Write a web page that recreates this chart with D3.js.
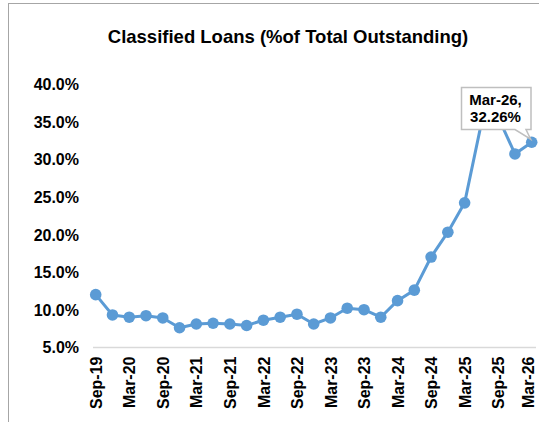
<!DOCTYPE html>
<html>
<head>
<meta charset="utf-8">
<script src="https://cdn.jsdelivr.net/npm/d3@7"></script>
<style>
  body { margin: 0; background: #fff; }
  text { font-family: "Liberation Sans", Arial, sans-serif; font-weight: bold; fill: #000; }
</style>
</head>
<body>
<svg id="chart" width="539" height="422"></svg>
<script>
let quarters = [
  "Sep-19", "Dec-19", "Mar-20", "Jun-20", "Sep-20", "Dec-20", "Mar-21", "Jun-21", "Sep-21",
  "Dec-21", "Mar-22", "Jun-22", "Sep-22", "Dec-22", "Mar-23", "Jun-23", "Sep-23", "Dec-23",
  "Mar-24", "Jun-24", "Sep-24", "Dec-24", "Mar-25", "Jun-25", "Sep-25", "Dec-25", "Mar-26"
]
let classified = [
  12.0, 9.3, 9.0, 9.2, 8.9, 7.6, 8.1, 8.2, 8.1,
  7.9, 8.6, 9.0, 9.4, 8.1, 8.9, 10.2, 10.0, 9.0,
  11.2, 12.6, 17.0, 20.3, 24.2, 34.8, 35.6, 30.7, 32.26
]
let yTicks = [5, 10, 15, 20, 25, 30, 35, 40]
let xTickLabels = quarters.filter((d, i) => i % 2 === 0)
let title = "Classified Loans (%of Total Outstanding)"

let svg = d3.select("#chart")
let blue = "#5B9BD5"

// outer chart border (only left/top edges are in frame)
svg.append("rect")
  .attr("x", 8.5)
  .attr("y", 3.5)
  .attr("width", 600)
  .attr("height", 500)
  .style("fill", "none")
  .style("stroke", "#a6a6a6")

svg.append("text")
  .attr("x", 288)
  .attr("y", 43)
  .attr("text-anchor", "middle")
  .style("font-size", "18.5px")
  .text(title)

let x = d3.scalePoint().domain(quarters).range([95.7, 531.7])
let y = d3.scaleLinear().domain([5, 40]).range([347.3, 84])

// y axis labels
let yAxis = d3.axisLeft(y)
  .tickValues(yTicks)
  .tickSize(0)
  .tickPadding(0)
  .tickFormat(d => d.toFixed(1) + "%")
svg.append("g")
  .attr("transform", "translate(79,0)")
  .call(yAxis)
  .call(g => g.select(".domain").remove())
  .selectAll("text")
  .attr("dy", "0.35em")
  .style("font-size", "16px")
  .style("font-family", "'Liberation Sans', Arial, sans-serif")
  .style("font-weight", "bold")

// x axis
let xAxis = d3.axisBottom(x)
  .tickValues(xTickLabels)
  .tickSize(0)
  .tickPadding(0)
svg.append("g")
  .attr("transform", "translate(0,347.5)")
  .call(xAxis)
  .call(g => g.select(".domain").remove())
  .selectAll("text")
  .attr("transform", "rotate(-90)")
  .attr("x", -9)
  .attr("y", 0)
  .attr("dy", (d, i) => i === xTickLabels.length - 1 ? "0.1em" : "0.35em") // keep last label in frame
  .attr("text-anchor", "end")
  .style("font-size", "16px")
  .style("font-family", "'Liberation Sans', Arial, sans-serif")
  .style("font-weight", "bold")

svg.append("line")
  .attr("x1", 93)
  .attr("x2", 536)
  .attr("y1", 347.5)
  .attr("y2", 347.5)
  .style("stroke", "#d9d9d9")
  .style("stroke-width", 1.5)

let line = d3.line()
  .x((d, i) => x(quarters[i]))
  .y(d => y(d))

svg.append("path")
  .datum(classified)
  .attr("d", line)
  .style("fill", "none")
  .style("stroke", blue)
  .style("stroke-width", 3)
  .style("stroke-linejoin", "round")

svg.selectAll("circle.pt")
  .data(classified)
  .enter()
  .append("circle")
  .attr("class", "pt")
  .attr("cx", (d, i) => x(quarters[i]))
  .attr("cy", d => y(d))
  .attr("r", 5.8)
  .style("fill", blue)

// callout for last value
let last = classified.length - 1
let px = x(quarters[last])
let py = y(classified[last])
let bx0 = 461.5, bx1 = 531, by0 = 87.5, by1 = 129.5
svg.append("path")
  .attr("d", "M" + bx0 + "," + by0 + "H" + bx1 + "V" + by1 + "H526L" + (px - 1) + "," + (py - 3) +
    "L515," + by1 + "H" + bx0 + "Z")
  .style("fill", "#fff")
  .style("stroke", "#bfbfbf")
  .style("stroke-width", 1.5)

svg.append("text")
  .attr("x", 495.5)
  .attr("y", 105)
  .attr("text-anchor", "middle")
  .style("font-size", "15px")
  .text(quarters[last] + ",")
svg.append("text")
  .attr("x", 495.5)
  .attr("y", 122)
  .attr("text-anchor", "middle")
  .style("font-size", "15px")
  .text(classified[last].toFixed(2) + "%")
</script>
</body>
</html>
